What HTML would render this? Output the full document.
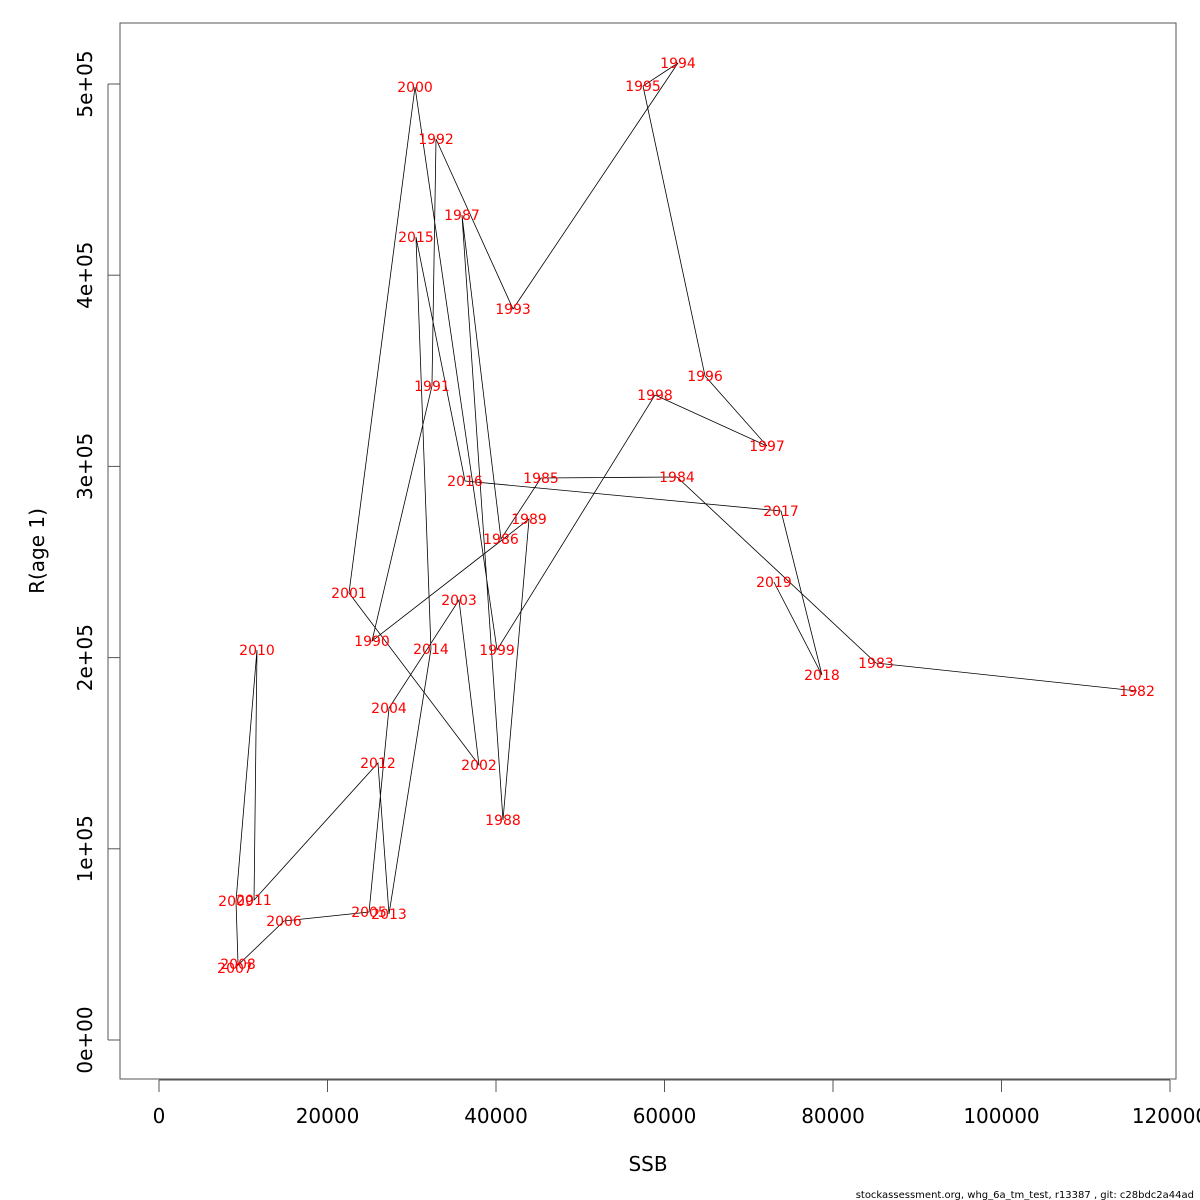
<!DOCTYPE html>
<html><head><meta charset="utf-8"><style>
html,body{margin:0;padding:0;background:#fff;}
svg{display:block;font-family:"DejaVu Sans","Liberation Sans",sans-serif;}
</style></head><body>
<svg id="chart" width="1200" height="1200" viewBox="0 0 1200 1200" xmlns="http://www.w3.org/2000/svg">
<rect x="120" y="23" width="1056" height="1056" fill="none" stroke="#555" stroke-width="1"/>
<g id="xaxis"></g>
<g id="yaxis"></g>
<polyline id="path" fill="none" stroke="#000" stroke-width="0.8"/>
<g id="labels"></g>
<text x="648" y="1171" font-size="20" text-anchor="middle">SSB</text>
<text transform="translate(44,551) rotate(-90)" font-size="20" text-anchor="middle">R(age 1)</text>
<text x="1194" y="1198" font-size="10" text-anchor="end" font-family="DejaVu Sans, sans-serif">stockassessment.org, whg_6a_tm_test, r13387 , git: c28bdc2a44ad</text>
</svg>
<script>
const years = [1982,1983,1984,1985,1986,1987,1988,1989,1990,1991,1992,1993,1994,1995,1996,1997,1998,1999,2000,2001,2002,2003,2004,2005,2006,2007,2008,2009,2010,2011,2012,2013,2014,2015,2016,2017,2018,2019];
const ssb = [116090,85100,61480,45340,40590,35960,40830,43920,25280,32400,32880,42020,61600,57450,64810,72170,58870,40120,30390,22550,37980,35610,27300,24930,14840,9020,9380,9140,11630,11280,25990,27300,32280,30500,36320,73830,78690,72990];
const rec = [182530,197180,294450,293930,262030,431480,115060,272490,208680,342050,471230,382320,510980,498950,347280,310670,337340,203970,498430,233790,143830,230130,173640,66950,62240,37660,39750,72700,203970,73220,144870,65900,204500,419980,292360,276670,190900,239540];
const xTicks = [0,20000,40000,60000,80000,100000,120000];
const yTicks = [0,100000,200000,300000,400000,500000];
const yTickLabels = ["0e+00","1e+05","2e+05","3e+05","4e+05","5e+05"];
const NS="http://www.w3.org/2000/svg";
const xs = v => 159 + v*(1170-159)/120000;
const ys = v => 1040 - v*(1040-84)/500000;
function mk(tag, attrs, parent){const e=document.createElementNS(NS,tag);for(const k in attrs)e.setAttribute(k,attrs[k]);parent.appendChild(e);return e;}
const xa=document.getElementById('xaxis');
mk('line',{x1:xs(0),x2:xs(120000),y1:1080,y2:1080,stroke:'#555'},xa);
xTicks.forEach(t=>{
  const l=mk('line',{x1:xs(t),x2:xs(t),y1:1080,y2:1092,stroke:'#555'},xa);
  
  
  const tx=mk('text',{x:xs(t),y:1123,'font-size':20,'text-anchor':'middle'},xa);
  tx.textContent=String(t);
  
  
});
const ya=document.getElementById('yaxis');
mk('line',{x1:108,x2:108,y1:ys(0),y2:ys(500000),stroke:'#555'},ya);
yTicks.forEach((t,i)=>{
  const l=mk('line',{x1:108,x2:120,y1:ys(t),y2:ys(t),stroke:'#555'},ya);
  
  
  const tx=mk('text',{transform:`translate(92,${ys(t)}) rotate(-90)`,'font-size':20,'text-anchor':'middle'},ya);
  tx.textContent=yTickLabels[i];
  
  
});
document.getElementById('path').setAttribute('points',ssb.map((v,i)=>xs(v)+','+ys(rec[i])).join(' '));
const lg=document.getElementById('labels');
years.forEach((y,i)=>{
  const t=mk('text',{x:xs(ssb[i]),y:ys(rec[i])+5,'font-size':14,fill:'#ff0000','text-anchor':'middle'},lg);
  t.textContent=String(y);
  
  
});
</script>
</body></html>
